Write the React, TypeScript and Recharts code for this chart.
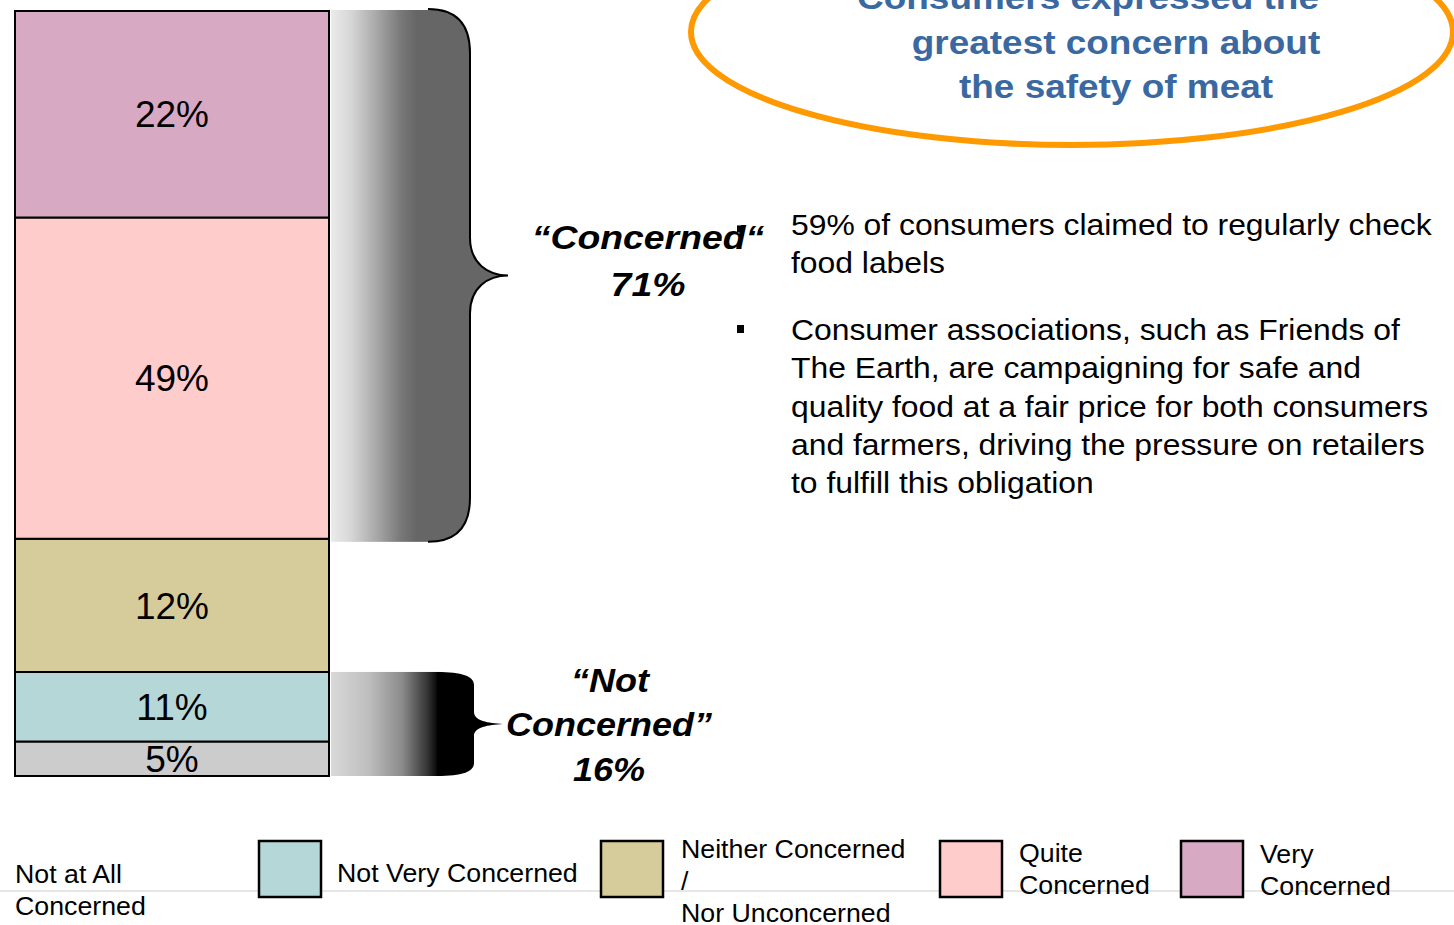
import React from "react";
import { BarChart, Bar, XAxis, YAxis, LabelList } from "recharts";

// series, bottom to top
const seriesKeys = ["notAtAll", "notVery", "neither", "quite", "very"];
const seriesNames = ["Not at All Concerned", "Not Very Concerned", "Neither Concerned / Nor Unconcerned", "Quite Concerned", "Very Concerned"];
// share of the bar height each block takes in the picture
const segmentShares = [4.5, 9.1, 17.4, 42.0, 27.0];
// percentages printed on the blocks
const printedLabels = ["5%", "11%", "12%", "49%", "22%"];
const colors = ["#cccccc", "#b6d7d8", "#d6cc9b", "#ffcccc", "#d8a9c3"];
const legendLines = [["Not at All", "Concerned"], ["Not Very Concerned"], ["Neither Concerned", "/", "Nor Unconcerned"], ["Quite", "Concerned"], ["Very", "Concerned"]];

const titleLines = ["Consumers expressed the", "greatest concern about", "the safety of meat"];
const bullets = [
  ["59% of consumers claimed to regularly check", "food labels"],
  ["Consumer associations, such as Friends of", "The Earth, are campaigning for safe and", "quality food at a fair price for both consumers", "and farmers, driving the pressure on retailers", "to fulfill this obligation"],
];

const W = 1454;
const H = 925;
const M = { top: 11, right: 1125, bottom: 149, left: 15 };
const FONT = "'Liberation Sans', Arial, sans-serif";

const row: Record<string, string | number> = { name: "meat" };
seriesKeys.forEach((k, i) => (row[k] = segmentShares[i]));
const data = [row];

const plotH = H - M.top - M.bottom;
const yOf = (cum: number) => M.top + (1 - cum / 100) * plotH;
const cumAt = (n: number) => segmentShares.slice(0, n).reduce((a, b) => a + b, 0);

function Stretched({ x, y, sx, size, anchor = "start", weight = "normal", italic = false, fill = "#000", children }: any) {
  return (
    <text
      transform={`translate(${x},${y}) scale(${sx},1)`}
      fontSize={size}
      fontFamily={FONT}
      fontWeight={weight}
      fontStyle={italic ? "italic" : "normal"}
      textAnchor={anchor}
      fill={fill}
    >
      {children}
    </text>
  );
}

function Overlay() {
  // upper bracket: quite + very, lower bracket: notAtAll + notVery
  const uT = yOf(100) - 2;
  const uB = yOf(cumAt(3)) + 3;
  const uM = (uT + uB) / 2;
  const lT = yOf(cumAt(2));
  const lB = yOf(0);
  const lM = (lT + lB) / 2;

  const upperCurve = `M 428 ${uT} C 456 ${uT} 470 ${uT + 15} 470 ${uT + 44} L 470 ${uM - 38} C 470 ${uM - 12} 488 ${uM} 508 ${uM} C 488 ${uM} 470 ${uM + 12} 470 ${uM + 38} L 470 ${uB - 44} C 470 ${uB - 15} 456 ${uB} 428 ${uB}`;
  const lowerShape = `M 437 ${lT} C 462 ${lT} 474 ${lT + 4} 474 ${lT + 13} L 474 ${lM - 12} C 474 ${lM - 3} 488 ${lM - 1} 503 ${lM} C 488 ${lM + 1} 474 ${lM + 3} 474 ${lM + 12} L 474 ${lB - 13} C 474 ${lB - 4} 462 ${lB} 437 ${lB} Z`;

  const legendX = [-64, 259, 601, 940, 1181];
  const legendTextX = [15, 337, 681, 1019, 1260];
  const legendTextY = [883, 882, 858, 862, 863];
  const titleX = [1088, 1116, 1116];

  return (
    <svg width={W} height={H} style={{ position: "absolute", left: 0, top: 0, overflow: "hidden" }}>
      <defs>
        <linearGradient id="upperFade" x1="0" y1="0" x2="1" y2="0">
          <stop offset="0" stopColor="#ebebeb" />
          <stop offset="0.2" stopColor="#d6d6d6" />
          <stop offset="0.45" stopColor="#a8a8a8" />
          <stop offset="0.7" stopColor="#777777" />
          <stop offset="0.85" stopColor="#666666" />
          <stop offset="1" stopColor="#666666" />
        </linearGradient>
        <linearGradient id="lowerFade" x1="0" y1="0" x2="1" y2="0">
          <stop offset="0" stopColor="#d9d9d9" />
          <stop offset="0.35" stopColor="#bdbdbd" />
          <stop offset="0.65" stopColor="#8a8a8a" />
          <stop offset="0.88" stopColor="#333333" />
          <stop offset="0.98" stopColor="#000000" />
        </linearGradient>
      </defs>

      <rect x={331} y={uT + 1} width={101} height={uB - uT - 1} fill="url(#upperFade)" />
      <path d={upperCurve + " Z"} fill="#666666" />
      <path d={upperCurve} fill="none" stroke="#000" strokeWidth={2} />

      <rect x={331} y={lT} width={110} height={lB - lT} fill="url(#lowerFade)" />
      <path d={lowerShape} fill="#000" />

      <rect x={737} y={uM - 50} width={7} height={7} fill="#000" />
      <rect x={737} y={325} width={7} height={8} fill="#000" />

      <Stretched x={648} y={249} sx={1.15} size={32.5} anchor="middle" weight="bold" italic>“Concerned“</Stretched>
      <Stretched x={648} y={296} sx={1.15} size={32.5} anchor="middle" weight="bold" italic>71%</Stretched>

      <Stretched x={610} y={692} sx={1.06} size={34} anchor="middle" weight="bold" italic>“Not</Stretched>
      <Stretched x={609} y={736} sx={1.06} size={34} anchor="middle" weight="bold" italic>Concerned”</Stretched>
      <Stretched x={609} y={781} sx={1.06} size={34} anchor="middle" weight="bold" italic>16%</Stretched>

      {bullets[0].map((l, i) => (
        <Stretched key={"a" + i} x={791} y={235 + i * 38} sx={1.08} size={29.5}>{l}</Stretched>
      ))}
      {bullets[1].map((l, i) => (
        <Stretched key={"b" + i} x={791} y={340 + i * 38.3} sx={1.08} size={29.5}>{l}</Stretched>
      ))}

      <ellipse cx={1072} cy={32} rx={381} ry={113} fill="none" stroke="#ff9900" strokeWidth={6} />
      {titleLines.map((l, i) => (
        <Stretched key={"t" + i} x={titleX[i]} y={9 + i * 44.5} sx={1.12} size={33} anchor="middle" weight="bold" fill="#3a68a0">{l}</Stretched>
      ))}

      <line x1={0} y1={891} x2={W} y2={891} stroke="#e6e6e6" strokeWidth={2} />
      {seriesKeys.map((k, i) => (
        <g key={k}>
          <rect x={legendX[i]} y={841} width={62} height={56} fill={colors[i]} stroke="#000" strokeWidth={2.5} />
          {legendLines[i].map((l, j) => (
            <Stretched key={j} x={legendTextX[i]} y={legendTextY[i] + j * 32} sx={1.07} size={25}>{l}</Stretched>
          ))}
        </g>
      ))}
    </svg>
  );
}

export default function App() {
  return (
    <div style={{ position: "absolute", left: 0, top: 0, width: W, height: H, background: "#fff", fontFamily: FONT }}>
      <BarChart width={W} height={H} data={data} margin={M} barCategoryGap={0} barGap={0}>
        <XAxis dataKey="name" hide />
        <YAxis type="number" domain={[0, 100]} hide />
        {seriesKeys.map((k, i) => (
          <Bar key={k} dataKey={k} name={seriesNames[i]} stackId="a" fill={colors[i]} stroke="#000" strokeWidth={2} isAnimationActive={false}>
            <LabelList
              dataKey={k}
              position="center"
              formatter={() => printedLabels[i]}
              fill="#000"
              stroke="none"
              fontSize={37}
              fontFamily={FONT}
            />
          </Bar>
        ))}
      </BarChart>
      <Overlay />
    </div>
  );
}
